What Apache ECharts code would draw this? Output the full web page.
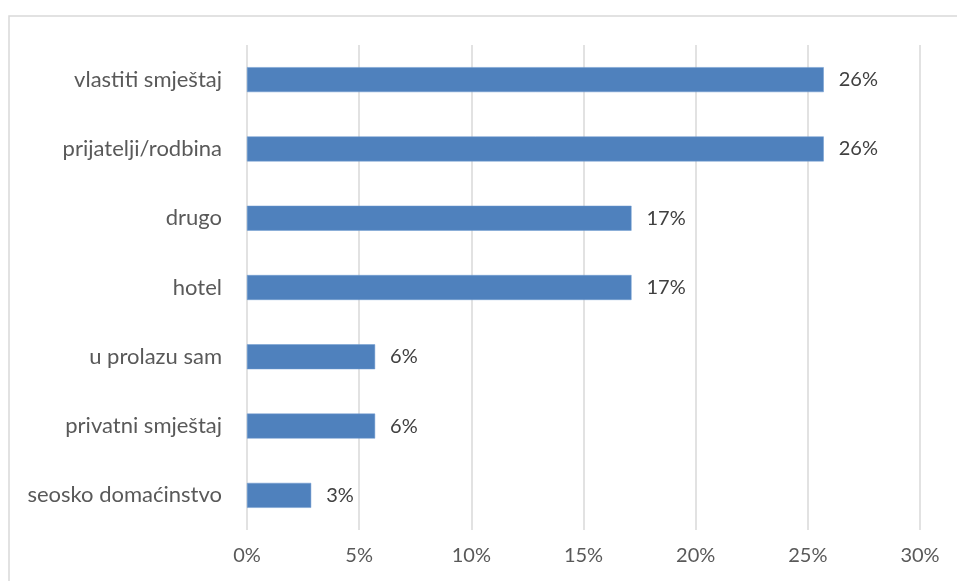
<!DOCTYPE html>
<html>
<head>
<meta charset="utf-8">
<script src="https://cdn.jsdelivr.net/npm/echarts@6/dist/echarts.min.js"></script>
<style>
html,body{margin:0;padding:0;background:#fff;}
#chart{width:957px;height:581px;}
</style>
</head>
<body>
<div id="chart"></div>
<script>
const categories = ['vlastiti smještaj','prijatelji/rodbina','drugo','hotel','u prolazu sam','privatni smještaj','seosko domaćinstvo'];
const values = [25.71, 25.71, 17.14, 17.14, 5.71, 5.71, 2.86];
const tickLabels = ['0%','5%','10%','15%','20%','25%','30%'];

const chart = echarts.init(document.getElementById('chart'));
const font = 'Lato, "Open Sans", sans-serif';
chart.setOption({
  animation: false,
  backgroundColor: '#fff',
  graphic: [{
    type: 'rect', silent: true, z: -1,
    shape: {x: 9, y: 16, width: 1000, height: 700},
    style: {fill: 'none', stroke: '#d9d9d9', lineWidth: 1.5}
  }],
  grid: {left: 247, right: 37, top: 45, bottom: 51, containLabel: false},
  xAxis: {
    type: 'value', min: 0, max: 30, interval: 5,
    axisLine: {show: false}, axisTick: {show: false},
    splitLine: {show: true, lineStyle: {color: '#d9d9d9', width: 1.5}},
    axisLabel: {
      color: '#595959', fontSize: 20, fontFamily: font, margin: 16,
      formatter: (v) => tickLabels[Math.round(v / 5)]
    }
  },
  yAxis: {
    type: 'category', data: categories, inverse: true,
    axisLine: {show: false}, axisTick: {show: false},
    axisLabel: {color: '#595959', fontSize: 22, fontFamily: font, margin: 25}
  },
  series: [{
    type: 'bar', data: values, barWidth: '36%',
    itemStyle: {color: '#4f81bd', borderColor: '#6f9bd0', borderWidth: 0.5},
    label: {
      show: true, position: 'right', distance: 15,
      color: '#404040', fontSize: 20, fontFamily: font,
      formatter: (p) => Math.round(p.value) + '%'
    }
  }]
});
</script>
</body>
</html>
